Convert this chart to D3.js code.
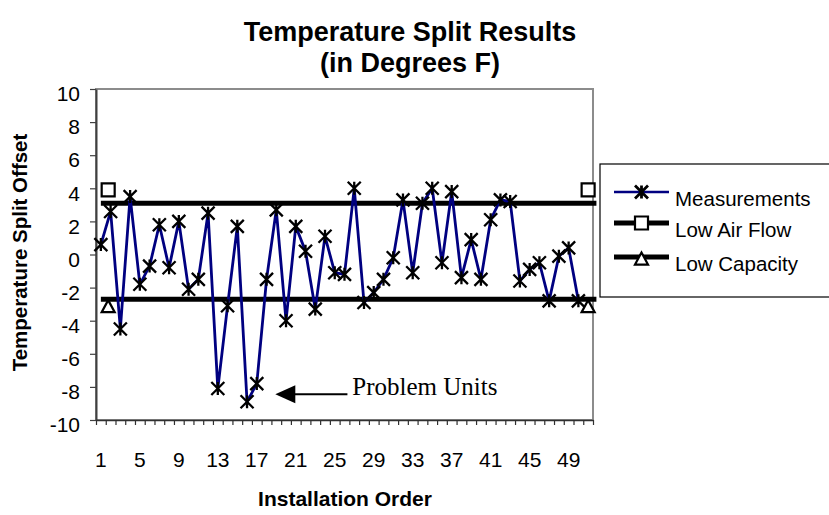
<!DOCTYPE html>
<html><head><meta charset="utf-8">
<script src="https://cdn.jsdelivr.net/npm/d3@7"></script>
<style>body{margin:0;background:#fff;} svg{display:block;}</style>
</head><body>
<svg id="c" width="829" height="515"></svg>
<script>
// ---------- data ----------
const categories = d3.range(1, 52);               // installation order slots 1..51
const measurements = [0.6, 2.6, -4.5, 3.5, -1.8, -0.7, 1.8, -0.8, 2.0, -2.1,
  -1.5, 2.5, -8.1, -3.1, 1.7, -8.9, -7.8, -1.5, 2.7, -4.0,
  1.7, 0.2, -3.3, 1.1, -1.1, -1.2, 4.0, -2.9, -2.3, -1.5,
  -0.2, 3.3, -1.1, 3.1, 4.0, -0.5, 3.8, -1.4, 0.9, -1.5,
  2.1, 3.3, 3.2, -1.6, -0.9, -0.5, -2.8, -0.1, 0.4, -2.8];
const lowAirFlow = 3.1;
const lowCapacity = -2.7;
const limitSpan = [1, 51.85];
const limitMarkerCats = [1.75, 51];
const lowAirFlowMarker = 3.9;
const lowCapacityMarker = -3.15;
const yTicks = [-10, -8, -6, -4, -2, 0, 2, 4, 6, 8, 10];
const xTickLabels = [1, 5, 9, 13, 17, 21, 25, 29, 33, 37, 41, 45, 49];
const seriesNames = ["Measurements", "Low Air Flow", "Low Capacity"];
const titleLines = ["Temperature Split Results", "(in Degrees F)"];
const yTitle = "Temperature Split Offset";
const xTitle = "Installation Order";
const noteText = "Problem Units";
const noteArrow = {tip: [18.9, -8.45], tail: [26.3, -8.45]};
const noteAt = [26.8, -8.5];

// ---------- layout ----------
const svg = d3.select("#c");
const L = 96, R = 593, T = 89, B = 420;
const x = d3.scaleLinear().domain([0.5, categories.length + 0.5]).range([L, R]);
const y = d3.scaleLinear().domain([-10, 10]).range([B, T]);
const SANS = "'Liberation Sans', Arial, sans-serif";
const SERIF = "'Liberation Serif', 'Times New Roman', serif";

// titles
svg.append("g").selectAll("text").data(titleLines).join("text")
  .attr("x", 410).attr("y", (d, i) => 41 + i * 31)
  .attr("text-anchor", "middle")
  .style("font-family", SANS).style("font-weight", "bold")
  .style("font-size", "27px")
  .text(d => d);

// plot frame
svg.append("rect").attr("x", L).attr("y", T).attr("width", R - L).attr("height", B - T)
  .attr("fill", "none").attr("stroke", "#8c8c8c").attr("stroke-width", 2);

// y axis
const gy = svg.append("g").attr("transform", `translate(${L},0)`)
  .call(d3.axisLeft(y).tickValues(yTicks).tickSize(6).tickSizeOuter(0).tickFormat(d => String(d)));
gy.select(".domain").attr("stroke", "#404040").attr("stroke-width", 2);
gy.selectAll(".tick line").attr("stroke", "#404040").attr("stroke-width", 1.2);
gy.selectAll(".tick text").attr("x", -16).attr("y", 5).attr("dy", "0.32em")
  .style("font-family", SANS).style("font-size", "21px").attr("fill", "#000");

// x axis
const gx = svg.append("g").attr("transform", `translate(0,${B})`)
  .call(d3.axisBottom(x).tickValues(d3.range(0.5, categories.length + 1, 1))
    .tickSize(5).tickSizeOuter(0).tickFormat(""));
gx.select(".domain").attr("stroke", "#303030").attr("stroke-width", 1.5);
gx.selectAll(".tick line").attr("stroke", "#303030").attr("stroke-width", 1.2);
svg.append("g").selectAll("text").data(xTickLabels).join("text")
  .attr("x", d => x(d)).attr("y", 467).attr("text-anchor", "middle")
  .style("font-family", SANS).style("font-size", "21px").text(d => d);

// axis titles
svg.append("text").attr("transform", `translate(27,${(T + B) / 2 - 2}) rotate(-90)`)
  .attr("text-anchor", "middle")
  .style("font-family", SANS).style("font-weight", "bold").style("font-size", "20.5px")
  .text(yTitle);
svg.append("text").attr("x", 345).attr("y", 506).attr("text-anchor", "middle")
  .style("font-family", SANS).style("font-weight", "bold").style("font-size", "21px")
  .text(xTitle);

// marker shapes
const starPath = s => `M${-s},${-s}L${s},${s}M${-s},${s}L${s},${-s}M0,${-s}L0,${s}`;
const squarePath = s => `M${-s},${-s}H${s}V${s}H${-s}Z`;
const triPath = s => `M0,${-s}L${s},${s * 0.85}H${-s}Z`;

// limit lines
[lowAirFlow, lowCapacity].forEach(v => {
  svg.append("line").attr("x1", x(limitSpan[0])).attr("x2", x(limitSpan[1]))
    .attr("y1", y(v)).attr("y2", y(v)).attr("stroke", "#000").attr("stroke-width", 5);
});

// measurement line
const line = d3.line().x((d, i) => x(i + 1)).y(d => y(d));
svg.append("path").datum(measurements).attr("d", line)
  .attr("fill", "none").attr("stroke", "#000080").attr("stroke-width", 2.8);
svg.append("g").selectAll("path").data(measurements).join("path")
  .attr("transform", (d, i) => `translate(${x(i + 1)},${y(d)})`)
  .attr("d", starPath(6.5)).attr("stroke", "#000").attr("stroke-width", 2.3).attr("fill", "none");

// limit markers
svg.append("g").selectAll("path").data(limitMarkerCats).join("path")
  .attr("transform", d => `translate(${x(d)},${y(lowAirFlowMarker)})`)
  .attr("d", squarePath(6.5)).attr("fill", "#fff").attr("stroke", "#000").attr("stroke-width", 2.2);
svg.append("g").selectAll("path").data(limitMarkerCats).join("path")
  .attr("transform", d => `translate(${x(d)},${y(lowCapacityMarker)})`)
  .attr("d", triPath(6.5)).attr("fill", "#fff").attr("stroke", "#000").attr("stroke-width", 2.2);

// annotation
svg.append("line").attr("x1", x(noteArrow.tail[0])).attr("x2", x(noteArrow.tip[0]) + 18)
  .attr("y1", y(noteArrow.tail[1])).attr("y2", y(noteArrow.tip[1]))
  .attr("stroke", "#000").attr("stroke-width", 2);
{
  const tx = x(noteArrow.tip[0]), ty = y(noteArrow.tip[1]);
  svg.append("path").attr("d", `M${tx},${ty}L${tx + 20},${ty - 9}L${tx + 20},${ty + 9}Z`).attr("fill", "#000");
}
svg.append("text").attr("x", x(noteAt[0])).attr("y", y(noteAt[1]))
  .style("font-family", SERIF).style("font-size", "25px").text(noteText);

// legend
const lg = svg.append("g");
lg.append("rect").attr("x", 600).attr("y", 164).attr("width", 240).attr("height", 133)
  .attr("fill", "#fff").attr("stroke", "#000").attr("stroke-width", 1.2);
const legY = [192, 223, 257];
seriesNames.forEach((name, i) => {
  const yy = legY[i];
  lg.append("line").attr("x1", 614).attr("x2", 669).attr("y1", yy).attr("y2", yy)
    .attr("stroke", i === 0 ? "#000080" : "#000").attr("stroke-width", i === 0 ? 2.6 : 5);
  const shape = i === 0 ? starPath(6.5) : i === 1 ? squarePath(6.5) : triPath(6.5);
  lg.append("path").attr("transform", `translate(641.5,${yy + (i === 2 ? 2 : 0)})`).attr("d", shape)
    .attr("fill", i === 0 ? "none" : "#fff").attr("stroke", "#000").attr("stroke-width", i === 0 ? 2.8 : 2.2);
  lg.append("text").attr("x", 675).attr("y", yy + 14)
    .style("font-family", SANS).style("font-size", "20.5px").text(name);
});
</script>
</body></html>
